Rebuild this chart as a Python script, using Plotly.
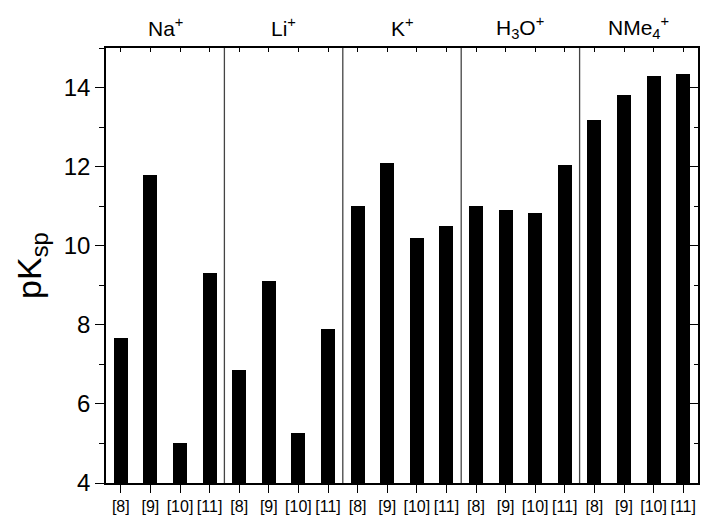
import plotly.graph_objects as go

groups = ["Na<sup>+</sup>", "Li<sup>+</sup>", "K<sup>+</sup>", "H<sub>3</sub>O<sup>+</sup>", "NMe<sub>4</sub><sup>+</sup>"]
refs = ["[8]", "[9]", "[10]", "[11]"]
na_vals = [7.67, 11.78, 5.01, 9.31]
li_vals = [6.87, 9.12, 5.26, 7.89]
k_vals = [11.01, 12.09, 10.20, 10.49]
h3o_vals = [11.01, 10.91, 10.84, 12.04]
nme4_vals = [13.18, 13.82, 14.28, 14.34]

all_vals = na_vals + li_vals + k_vals + h3o_vals + nme4_vals
labels = refs * len(groups)
pos = list(range(len(all_vals)))

FONT = "Arial"

fig = go.Figure()
fig.add_trace(go.Bar(x=pos, y=all_vals, width=0.47, marker=dict(color="black", line=dict(width=0)),
                     showlegend=False))
fig.add_trace(go.Scatter(x=pos, y=all_vals, mode="markers", marker=dict(opacity=0),
                         xaxis="x2", yaxis="y2", showlegend=False, hoverinfo="skip"))

# group separators
for i in range(1, len(groups)):
    fig.add_shape(type="line", xref="x", yref="paper", x0=4 * i - 0.5, x1=4 * i - 0.5, y0=0, y1=1,
                  line=dict(color="#444", width=1.3))
# group labels
for i, g in enumerate(groups):
    fig.add_annotation(x=4 * i + 1.5, xref="x", y=1, yref="paper", yanchor="middle", yshift=21,
                       text=g, showarrow=False, font=dict(family=FONT, size=21, color="black"))

fig.update_layout(
    width=701, height=518,
    margin=dict(l=106, r=3, t=48, b=31),
    paper_bgcolor="white", plot_bgcolor="white",
    font=dict(family=FONT, color="black"),
    xaxis=dict(range=[-0.5, len(all_vals) - 0.5], tickvals=pos, ticktext=labels,
               ticks="outside", ticklen=8, tickwidth=1.3, tickcolor="black",
               showline=True, linecolor="black", linewidth=1.5, showgrid=False, zeroline=False,
               tickfont=dict(size=16, family=FONT)),
    yaxis=dict(range=[4, 15], tickvals=[4, 6, 8, 10, 12, 14], ticks="outside", ticklen=9,
               tickwidth=1.3, tickcolor="black",
               minor=dict(dtick=1, ticks="outside", ticklen=5, tickwidth=1.3, tickcolor="black"),
               showline=True, linecolor="black", linewidth=1.5, showgrid=False, zeroline=False,
               tickfont=dict(size=24, family=FONT),
               title=dict(text="pK<sub>sp</sub>", font=dict(size=34, family=FONT), standoff=12)),
    xaxis2=dict(overlaying="x", side="top", range=[-0.5, len(all_vals) - 0.5], tickvals=pos,
                ticks="inside", ticklen=4, tickwidth=1.2, tickcolor="black", showticklabels=False,
                showline=True, linecolor="black", linewidth=1.5, showgrid=False, zeroline=False),
    yaxis2=dict(overlaying="y", side="right", range=[4, 15], tickvals=[4, 6, 8, 10, 12, 14],
                ticks="inside", ticklen=8, tickwidth=1.2, tickcolor="black", showticklabels=False,
                minor=dict(dtick=1, ticks="inside", ticklen=4, tickwidth=1.2, tickcolor="black"),
                showline=True, linecolor="black", linewidth=1.5, showgrid=False, zeroline=False),
    bargap=0,
)

fig.write_html("out.html")
